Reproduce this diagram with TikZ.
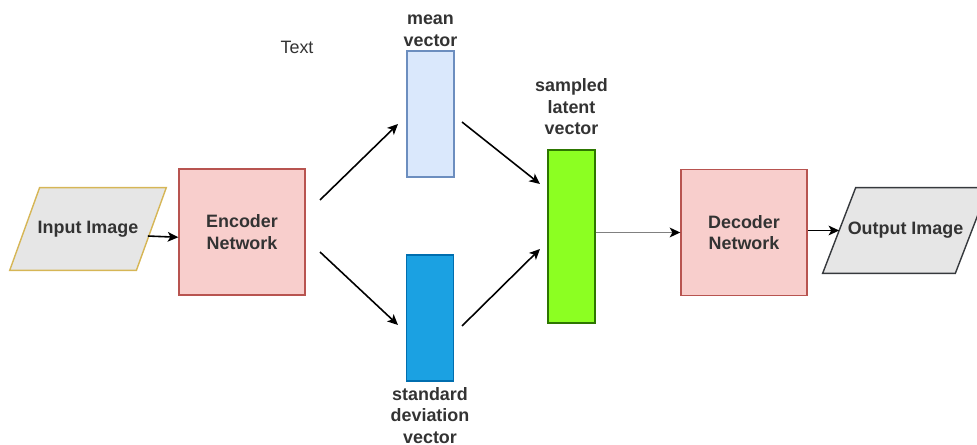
\documentclass[tikz,border=0pt]{standalone}
\usepackage{fontspec}
\setmainfont{Liberation Sans}
\usetikzlibrary{arrows.meta,positioning,backgrounds}
\definecolor{redfill}{HTML}{F8CECC}
\definecolor{redline}{HTML}{B85450}
\definecolor{bluefill}{HTML}{DAE8FC}
\definecolor{blueline}{HTML}{6C8EBF}
\definecolor{deepfill}{HTML}{1BA1E2}
\definecolor{deepline}{HTML}{006EAF}
\definecolor{greenfill}{HTML}{8CFF22}
\definecolor{greenline}{HTML}{2D7600}
\definecolor{grayfill}{HTML}{E6E6E6}
\definecolor{goldline}{HTML}{D6B656}
\definecolor{darkline}{HTML}{36393D}
\definecolor{txt}{HTML}{333333}

\begin{document}
\begin{tikzpicture}[
  x=0.02cm, y=-0.02cm,
  font=\fontsize{10.2}{12.2}\selectfont\bfseries,
  text=txt,
  box/.style={draw=redline, fill=redfill, line width=0.8pt, align=center,
              minimum width=2.52cm, minimum height=2.52cm},
  vec/.style={draw, line width=0.8pt, minimum width=0.94cm, minimum height=2.52cm},
  img/.style={inner sep=0pt},
  imgshape/.style={fill=grayfill, line width=0.8pt, line join=miter},
  lbl/.style={align=center, inner sep=0pt},
  arr/.style={-{Stealth[length=6pt, width=5.5pt, inset=1.5pt]}, line width=0.9pt}
]
\useasboundingbox (0,0) rectangle (977,445);

\node[img, minimum width=2.52cm, minimum height=1.64cm] (inimg) at (88,229) {Input Image};
\node[box] (enc) at (242,232) {Encoder\\Network};
\node[vec, draw=blueline, fill=bluefill] (mean) at (430.5,114) {};
\node[vec, draw=deepline, fill=deepfill] (std) at (430,318) {};
\node[vec, draw=greenline, fill=greenfill, minimum height=3.46cm] (latent) at (571.5,236.5) {};
\node[box] (dec) at (744,232.5) {Decoder\\Network};
\node[img, minimum width=2.64cm, minimum height=1.7cm] (outimg) at (905.5,230.5) {Output Image};

\node[lbl, above=2pt of mean] (meanlbl) {mean\\vector};
\node[lbl, above=8pt of latent] (latentlbl) {sampled\\latent\\vector};
\node[lbl, below=3pt of std] (stdlbl) {standard\\deviation\\vector};
\node[font=\fontsize{10.2}{12.2}\selectfont] (note) at (297,47) {Text};

% parallelograms behind the image labels
\begin{scope}[on background layer]
  \draw[imgshape, draw=goldline]
    ([xshift=8.5pt]inimg.north west) -- ([xshift=8.5pt]inimg.north east)
    -- ([xshift=-8.5pt]inimg.south east) -- ([xshift=-8.5pt]inimg.south west) -- cycle;
  \draw[imgshape, draw=darkline]
    ([xshift=9.4pt]outimg.north west) -- ([xshift=9.4pt]outimg.north east)
    -- ([xshift=-9.4pt]outimg.south east) -- ([xshift=-9.4pt]outimg.south west) -- cycle;
\end{scope}

\coordinate (encup) at (320,200);
\coordinate (encdn) at (320,252);
\coordinate (meanin) at (398,124);
\coordinate (stdin) at (398,325);
\coordinate (meanout) at (462,122);
\coordinate (stdout) at (462,326);
\coordinate (latup) at (540,184);
\coordinate (latdn) at (540,249);

\draw[arr] ([xshift=-2pt, yshift=-4pt]inimg.east) -- ([yshift=-3pt]enc.west);
\draw[arr] (encup) -- (meanin);
\draw[arr] (encdn) -- (stdin);
\draw[arr] (meanout) -- (latup);
\draw[arr] (stdout) -- (latdn);
\draw[arr, draw=black!50, line width=1.1pt, -{Stealth[length=6pt, width=5.5pt, inset=1.5pt, black]}] (latent.east |- dec.west) -- (dec.west);
\draw[arr] (dec.east |- outimg.west) -- (outimg.west);
\end{tikzpicture}
\end{document}
